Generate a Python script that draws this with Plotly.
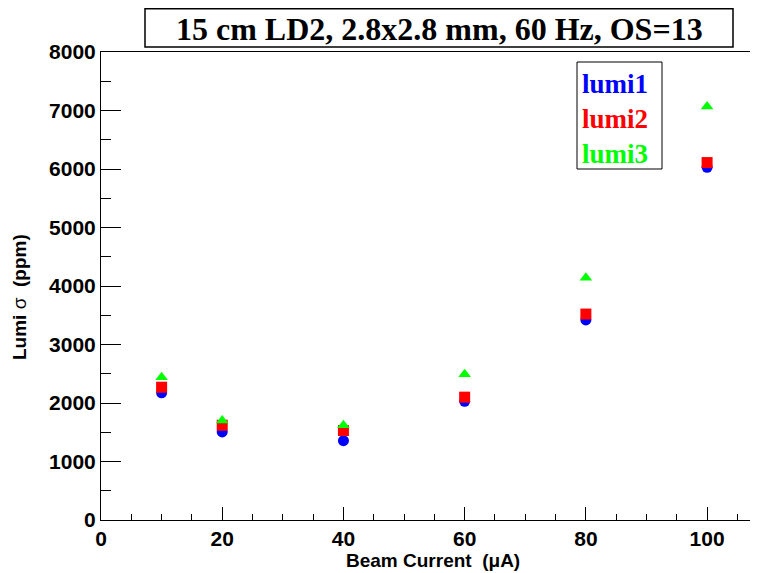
import plotly.graph_objects as go

current = [10, 20, 40, 60, 80, 100]
lumi1 = [2175, 1505, 1355, 2030, 3420, 6030]
lumi2 = [2270, 1620, 1530, 2100, 3520, 6110]
lumi3 = [2440, 1700, 1620, 2490, 4140, 7070]
series_names = ["lumi1", "lumi2", "lumi3"]
series_colors = ["#0000ff", "#ff0000", "#00ff00"]
series_symbols = ["circle", "square", "triangle-up"]
title_text = "15 cm LD2, 2.8x2.8 mm, 60 Hz, OS=13"
x_title = "<b>Beam Current&nbsp;&nbsp;(μA)</b>"
y_title = "<b>Lumi</b> σ <b>&nbsp;(ppm)</b>"

# page has an 8px body margin, so figure coordinates = page coordinates - 8
W, H = 750, 565
L, T, B = 93, 44, 53
PW, PH = W - L, H - T - B


def px(x):
    return (x - 8 - L) / PW


def py(y):
    return (H - B - (y - 8)) / PH


fig = go.Figure()
for name, vals, col, sym in zip(series_names, [lumi1, lumi2, lumi3], series_colors, series_symbols):
    fig.add_trace(go.Scatter(x=current, y=vals, mode="markers", name=name,
                             marker=dict(color=col, symbol=sym, size=11, line=dict(width=0)),
                             showlegend=False, cliponaxis=False))

tick_font = dict(family="Liberation Sans, Arial", size=21, color="black", weight="bold")
fig.update_layout(
    width=W, height=H,
    margin=dict(l=L, r=0, t=T, b=B),
    paper_bgcolor="white", plot_bgcolor="white",
    xaxis=dict(range=[0, 108.4], tick0=0, dtick=20, ticks="inside", ticklen=13, tickwidth=1,
               tickcolor="black", showline=True, linecolor="black", linewidth=1, mirror=True,
               showgrid=False, zeroline=False, tickfont=tick_font,
               minor=dict(dtick=5, ticks="inside", ticklen=6, tickcolor="black")),
    yaxis=dict(range=[0, 8000], tick0=0, dtick=1000, ticks="inside", ticklen=20, tickwidth=1,
               tickcolor="black", showline=True, linecolor="black", linewidth=1, mirror=False,
               showgrid=False, zeroline=False, tickfont=tick_font,
               minor=dict(dtick=500, ticks="inside", ticklen=10, tickcolor="black")),
)

# axis titles
fig.add_annotation(xref="paper", yref="paper", x=px(433), y=py(560), text=x_title,
                   showarrow=False, xanchor="center", yanchor="middle",
                   font=dict(family="Liberation Sans, Arial", size=19, color="black"))
fig.add_annotation(xref="paper", yref="paper", x=px(19), y=py(297), text=y_title,
                   showarrow=False, xanchor="center", yanchor="middle", textangle=-90,
                   font=dict(family="Liberation Sans, Arial", size=19, color="black"))

# title box
fig.add_shape(type="rect", xref="paper", yref="paper", x0=px(145), x1=px(733),
              y0=py(47), y1=py(8.7), line=dict(color="black", width=1.5),
              fillcolor="white", layer="above")
fig.add_annotation(xref="paper", yref="paper", x=px(439), y=py(29), text=title_text,
                   showarrow=False, xanchor="center", yanchor="middle",
                   font=dict(family="Liberation Serif, Times New Roman", size=32, color="black", weight="bold"))

# legend box
fig.add_shape(type="rect", xref="paper", yref="paper", x0=px(577), x1=px(662),
              y0=py(169), y1=py(62), line=dict(color="black", width=1),
              fillcolor="white", layer="above")
for i, (name, col) in enumerate(zip(series_names, series_colors)):
    fig.add_annotation(xref="paper", yref="paper", x=px(580), y=py(84 + 35 * i),
                       text=name, showarrow=False, xanchor="left", yanchor="middle",
                       font=dict(family="Liberation Serif, Times New Roman", size=27, color=col, weight="bold"))

fig.write_html("out.html")
